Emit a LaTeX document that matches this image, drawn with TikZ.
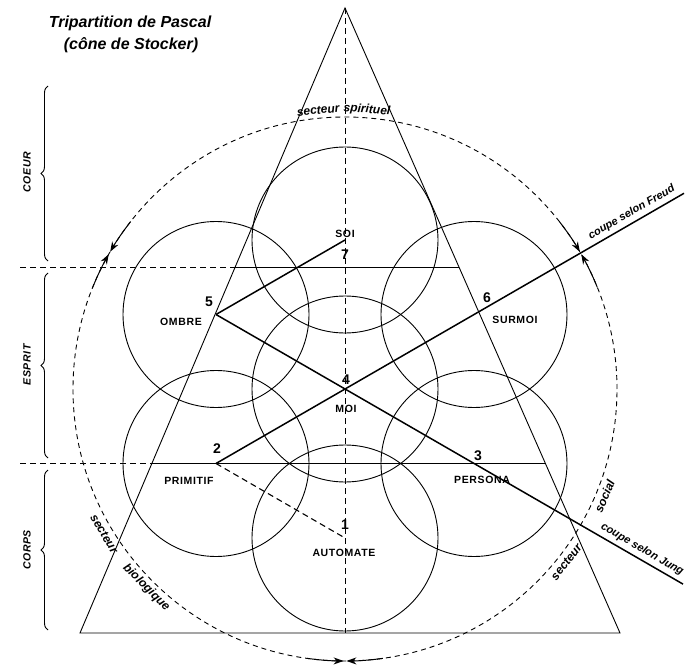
\documentclass[tikz,border=0pt]{standalone}
\usepackage{fontspec}
\setmainfont{Liberation Sans}
\usetikzlibrary{decorations.pathreplacing,arrows.meta,calc}
\begin{document}
\begin{tikzpicture}[x=1pt,y=-1pt,
  thinline/.style={line width=0.9pt},
  cutline/.style={line width=1.5pt},
  dashaxis/.style={line width=0.9pt, dash pattern=on 6pt off 4pt},
  sectorcircle/.style={line width=0.9pt, dash pattern=on 5pt off 4pt},
  lbl/.style={font=\fontsize{10.5}{12}\selectfont\bfseries\addfontfeature{LetterSpace=6}},
  num/.style={font=\fontsize{14}{16}\selectfont\bfseries},
  sidelbl/.style={font=\fontsize{10.5}{12}\selectfont\bfseries\itshape\addfontfeature{LetterSpace=6}, rotate=90},
  cutlbl/.style={font=\fontsize{11}{13}\selectfont\bfseries\itshape},
  sectorlbl/.style={font=\fontsize{12}{13}\selectfont\bfseries\itshape, inner sep=0pt},
  titlelbl/.style={font=\fontsize{16}{18}\selectfont\bfseries\itshape},
  bracestyle/.style={decorate, decoration={brace, amplitude=7pt}, line width=0.9pt},
  tipstyle/.style={-{Stealth[length=10pt,width=7pt]}, line width=1pt},
]
\useasboundingbox (0,0) rectangle (686,666);
\fill[white] (0,0) rectangle (686,666);

% triangle
\coordinate (apex) at (345,8);
\coordinate (bl) at (80,633);
\coordinate (br) at (620,633);
\coordinate (axisbot) at (345,633);
% circle centres
\coordinate (c7) at (345,240);
\coordinate (c5) at (216,314.5);
\coordinate (c6) at (474,314.5);
\coordinate (c4) at (345,389);
\coordinate (c2) at (216,463.5);
\coordinate (c3) at (474,463.5);
\coordinate (c1) at (345,538);
% level lines
\coordinate (l1) at ($(apex)!0.4144!(bl)$);
\coordinate (r1) at ($(apex)!0.4144!(br)$);
\coordinate (l2) at ($(apex)!0.7288!(bl)$);
\coordinate (r2) at ($(apex)!0.7288!(br)$);
\coordinate (d1) at (20,267);
\coordinate (d2) at (20,463.5);
% cut ends
\coordinate (freudend) at (684,193.3);
\coordinate (jungend) at (683,584.1);

% circles
\foreach \c in {c1,c2,c3,c4,c5,c6,c7}
  \draw[thinline] (\c) circle[radius=93pt];

% triangle
\draw[thinline] (apex) -- (bl) -- (br) -- cycle;

% horizontal levels
\draw[thinline] (l1 |- d1) -- (r1 |- d1);
\draw[thinline] (l2 |- d2) -- (r2 |- d2);
\draw[dashaxis] (d1) -- (l1 |- d1);
\draw[dashaxis] (d2) -- (l2 |- d2);

% vertical axis
\draw[dashaxis] (apex) -- (axisbot);

% cuts
\draw[cutline] (c5) -- (jungend);
\draw[cutline] (c2) -- (freudend);
\draw[cutline] (c5) -- (c7);
\draw[dashaxis, line width=1.1pt] (c2) -- (c1);

% sector circle
\draw[sectorcircle] (c4) circle[radius=272pt];
\foreach \a in {30,150,270} {
  \draw[tipstyle] ([shift={(\a+8:272pt)}]c4) arc[start angle=\a+8, end angle=\a+0.3, radius=272pt];
  \draw[tipstyle] ([shift={(\a-8:272pt)}]c4) arc[start angle=\a-8, end angle=\a-0.3, radius=272pt];
}

% sector texts
\node[sectorlbl, rotate=5.5] (sp1) at ([shift={(95.5:280pt)}]c4) {secteur};
\node[sectorlbl, rotate=-4.5] (sp2) at ([shift={(85.5:280pt)}]c4) {spirituel};
\node[sectorlbl, rotate=52] (so1) at ([shift={(-38:281pt)}]c4) {secteur};
\node[sectorlbl, rotate=67] (so2) at ([shift={(-22.5:281pt)}]c4) {social};
\node[sectorlbl, rotate=-59] (bi1) at ([shift={(211:281pt)}]c4) {secteur};
\node[sectorlbl, rotate=-45] (bi2) at ([shift={(225:281pt)}]c4) {biologique};

% cut labels
\path (c4) -- (freudend) node[cutlbl, pos=0.86, above=1pt, sloped] (freudlbl) {coupe selon Freud};
\path (c4) -- (jungend) node[cutlbl, pos=0.865, above=1pt, sloped] (junglbl) {coupe selon Jung};

% braces
\draw[bracestyle] (48,261) -- (48,86);
\draw[bracestyle] (48,458) -- (48,273);
\draw[bracestyle] (48,630) -- (48,470);
\node[sidelbl] (coeur) at (27,172) {COEUR};
\node[sidelbl] (esprit) at (27,365) {ESPRIT};
\node[sidelbl] (corps) at (27,550) {CORPS};

% title
\node[titlelbl] (t1) at (130,23) {Tripartition de Pascal};
\node[titlelbl] (t2) at (131,45) {(cône de Stocker)};

% labels
\node[lbl] (soi) at (345,234) {SOI};
\node[num] (n7) at (345,255) {7};
\node[num] (n5) at (209,302) {5};
\node[lbl] (ombre) at (181,322) {OMBRE};
\node[num] (n6) at (487,298) {6};
\node[lbl] (surmoi) at (515,320) {SURMOI};
\node[num] (n4) at (346,380) {4};
\node[lbl] (moi) at (346,409) {MOI};
\node[num] (n2) at (217,449) {2};
\node[lbl] (primitif) at (189,481) {PRIMITIF};
\node[num] (n3) at (478,456) {3};
\node[lbl] (persona) at (482,480) {PERSONA};
\node[num] (n1) at (345,525) {1};
\node[lbl] (automate) at (344,553) {AUTOMATE};
\end{tikzpicture}
\end{document}
